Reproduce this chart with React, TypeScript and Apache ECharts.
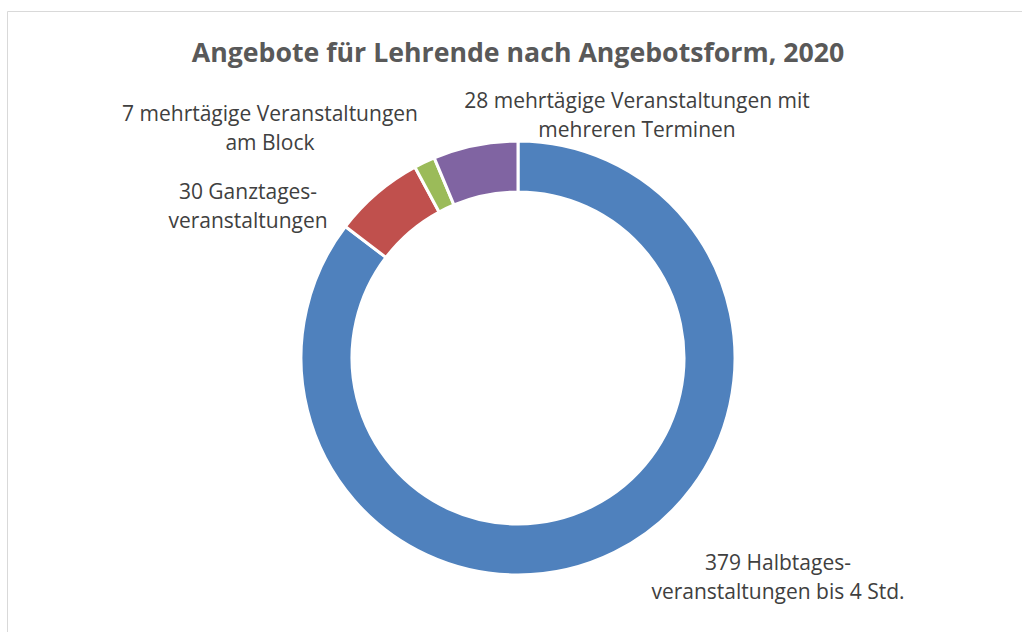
import React, { useEffect, useRef } from "react";
import * as echarts from "echarts";

const titleText = "Angebote für Lehrende nach Angebotsform, 2020";
const categories = [
  "Halbtages-\nveranstaltungen bis 4 Std.",
  "Ganztages-\nveranstaltungen",
  "mehrtägige Veranstaltungen\nam Block",
  "mehrtägige Veranstaltungen mit\nmehreren Terminen",
];
const values = [379, 30, 7, 28];
const colors = ["#4F81BD", "#C0504D", "#9BBB59", "#8064A2"];

// label anchor positions (layout only)
const labelPos = [
  [778, 576],
  [248, 205],
  [270, 127],
  [637, 114],
];

const FONT = "'Open Sans', Lato, sans-serif";

export default function App() {
  const ref = useRef<HTMLDivElement>(null);
  useEffect(() => {
    if (!ref.current) return;
    const chart = echarts.init(ref.current, null, { renderer: "svg" });
    chart.setOption({
      animation: false,
      backgroundColor: "#ffffff",
      title: {
        text: titleText,
        left: 513,
        top: 33,
        textAlign: "center",
        textStyle: {
          fontFamily: FONT,
          fontSize: 26.7,
          fontWeight: "bold",
          color: "#595959",
        },
      },
      graphic: [
        {
          type: "rect",
          shape: { x: 7.5, y: 11.5, width: 1200, height: 800 },
          style: { fill: "none", stroke: "#d9d9d9", lineWidth: 1 },
          silent: true,
          z: -1,
        },
      ],
      series: [
        {
          type: "pie",
          center: [518, 358],
          radius: [166, 217],
          startAngle: 90,
          clockwise: true,
          avoidLabelOverlap: false,
          itemStyle: { borderColor: "#ffffff", borderWidth: 3 },
          label: {
            show: true,
            position: "outside",
            formatter: (p: any) => `${p.value} ${p.name}`,
            fontFamily: FONT,
            fontSize: 21,
            lineHeight: 29,
            color: "#404040",
            align: "center",
          },
          labelLine: { show: false },
          labelLayout: (params: any) => {
            const pos = labelPos[params.dataIndex];
            return {
              x: pos[0],
              y: pos[1],
              align: "center",
              verticalAlign: "middle",
            };
          },
          emphasis: { disabled: true },
          data: values.map((v, i) => ({
            value: v,
            name: categories[i],
            itemStyle: { color: colors[i] },
          })),
        },
      ],
    });
    return () => chart.dispose();
  }, []);
  return (
    <div
      ref={ref}
      style={{ position: "fixed", left: 0, top: 0, width: 1022, height: 632 }}
    />
  );
}
